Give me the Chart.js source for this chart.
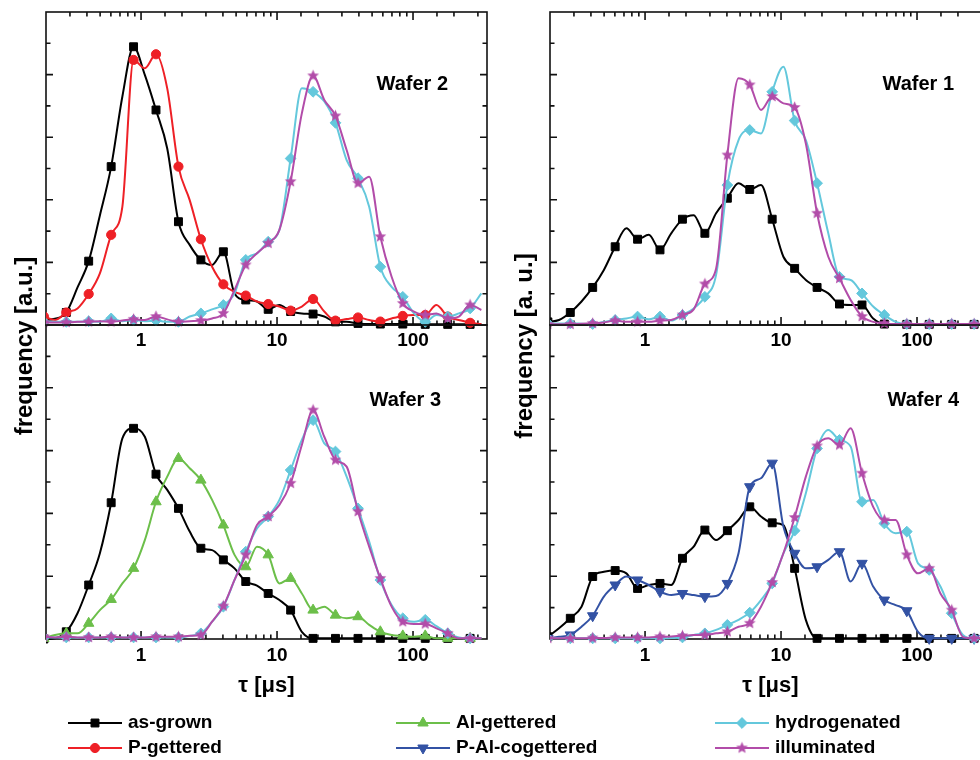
<!DOCTYPE html>
<html>
<head>
<meta charset="utf-8">
<script src="https://cdn.jsdelivr.net/npm/chart.js@4.4.1/dist/chart.umd.min.js"></script>
<style>
  html, body { margin: 0; padding: 0; background: #fff; overflow: hidden; width: 980px; height: 760px; }
  canvas { position: absolute; left: 0; top: 0; }
</style>
</head>
<body>
<canvas id="w2" width="1000" height="760"></canvas>
<canvas id="w1" width="1000" height="760"></canvas>
<canvas id="w3" width="1000" height="760"></canvas>
<canvas id="w4" width="1000" height="760"></canvas>
<script>
// lifetime grid (us), markers on every second point
const tau = [0.193, 0.233, 0.282, 0.341, 0.412, 0.498, 0.603, 0.729, 0.881, 1.066,
  1.288, 1.558, 1.884, 2.279, 2.754, 3.33, 4.03, 4.87, 5.89, 7.12,
  8.61, 10.41, 12.59, 15.22, 18.41, 22.26, 26.9, 32.5, 39.4, 47.6,
  57.5, 69.6, 84.1, 101.7, 123, 148.7, 179.9, 217.5, 263, 318];

const seriesNames = ["as-grown", "P-gettered", "Al-gettered", "P-Al-cogettered", "hydrogenated", "illuminated"];
const xTickLabels = ["1", "10", "100"];

// Wafer 2
const w2Grown = [0.16, 0.2, 0.4, 1.2, 2.04, 3.5, 5.06, 7.3, 8.89, 7.99,
  6.87, 5.64, 3.3, 2.56, 2.08, 1.92, 2.34, 1.01, 0.8, 0.75,
  0.5, 0.64, 0.43, 0.37, 0.35, 0.27, 0.1, 0.1, 0.05, 0.03,
  0.03, 0.03, 0.03, 0.02, 0.02, 0.02, 0.02, 0.02, 0.02, 0.02];
const w2PGett = [0.27, 0.16, 0.4, 0.53, 0.99, 1.65, 2.88, 3.78, 8.47, 8.2,
  8.65, 7.56, 5.06, 3.99, 2.74, 1.86, 1.3, 1.06, 0.94, 0.75,
  0.67, 0.59, 0.46, 0.59, 0.83, 0.43, 0.14, 0.19, 0.24, 0.16,
  0.11, 0.21, 0.29, 0.32, 0.32, 0.64, 0.27, 0.16, 0.07, 0.03];
const w2Hydro = [0.1, 0.1, 0.1, 0.1, 0.12, 0.1, 0.21, 0.12, 0.16, 0.12,
  0.14, 0.1, 0.1, 0.27, 0.37, 0.5, 0.64, 1.01, 2.08, 2.29,
  2.66, 3.04, 5.32, 7.56, 7.45, 7.14, 6.46, 5.27, 4.69, 3.78,
  1.86, 1.22, 0.9, 0.37, 0.1, 0.32, 0.27, 0.37, 0.53, 1.01];
const w2Illum = [0.08, 0.08, 0.08, 0.1, 0.1, 0.12, 0.1, 0.14, 0.18, 0.16,
  0.27, 0.18, 0.1, 0.12, 0.14, 0.21, 0.37, 1.12, 1.92, 2.29,
  2.61, 3.04, 4.58, 6.76, 7.96, 7.19, 6.68, 5.59, 4.53, 4.74,
  2.82, 1.54, 0.69, 0.43, 0.32, 0.37, 0.21, 0.27, 0.64, 0.48];

// Wafer 1
const w1Grown = [0.1, 0.16, 0.4, 0.75, 1.2, 1.76, 2.5, 3.09, 2.74, 2.88,
  2.4, 2.93, 3.38, 3.51, 2.93, 3.57, 4.05, 4.53, 4.33, 4.47,
  3.38, 2.18, 1.81, 1.44, 1.2, 1.01, 0.67, 0.64, 0.64, 0.21,
  0.03, 0.02, 0.02, 0.02, 0.02, 0.02, 0.02, 0.02, 0.02, 0.02];
const w1Hydro = [0.05, 0.05, 0.05, 0.04, 0.03, 0.1, 0.16, 0.21, 0.27, 0.18,
  0.27, 0.14, 0.32, 0.53, 0.9, 1.6, 4.47, 5.91, 6.23, 6.12,
  7.45, 8.25, 6.53, 5.91, 4.53, 2.93, 1.54, 1.44, 1.01, 0.59,
  0.32, 0.1, 0.03, 0.03, 0.03, 0.03, 0.03, 0.03, 0.03, 0.03];
const w1Illum = [0.02, 0.02, 0.02, 0.04, 0.05, 0.08, 0.14, 0.1, 0.1, 0.1,
  0.14, 0.16, 0.32, 0.5, 1.31, 1.8, 5.43, 7.88, 7.67, 6.87,
  7.3, 7.08, 6.95, 5.8, 3.57, 2.18, 1.49, 0.8, 0.27, 0.1,
  0.05, 0.03, 0.03, 0.03, 0.03, 0.03, 0.03, 0.03, 0.03, 0.03];

// Wafer 3
const w3Grown = [0, 0.02, 0.23, 0.82, 1.72, 2.73, 4.34, 6.39, 6.71, 6.44,
  5.25, 4.75, 4.16, 3.42, 2.89, 2.83, 2.52, 2.25, 1.83, 1.7,
  1.45, 1.24, 0.92, 0.23, 0.02, 0.02, 0.02, 0.02, 0.02, 0.02,
  0.02, 0.02, 0.02, 0.02, 0.02, 0.02, 0.02, 0.02, 0.02, 0.02];
const w3AlGett = [0.02, 0.13, 0.18, 0.18, 0.5, 0.92, 1.26, 1.77, 2.25, 3.15,
  4.37, 5.17, 5.75, 5.44, 5.06, 4.43, 3.63, 2.68, 2.3, 2.94,
  2.68, 1.77, 1.93, 1.45, 0.92, 1.03, 0.76, 0.66, 0.71, 0.45,
  0.23, 0.13, 0.1, 0.07, 0.1, 0.02, 0.02, 0.02, 0.02, 0.02];
const w3Hydro = [0.05, 0.05, 0.05, 0.04, 0.05, 0.05, 0.05, 0.05, 0.05, 0.05,
  0.05, 0.05, 0.05, 0.1, 0.18, 0.55, 1.03, 1.88, 2.78, 3.52,
  3.9, 4.43, 5.38, 6.34, 6.97, 6.23, 5.97, 5.17, 4.16, 3.1,
  1.88, 1.08, 0.66, 0.55, 0.61, 0.41, 0.18, 0.05, 0.02, 0.02];
const w3Illum = [0.07, 0.05, 0.07, 0.05, 0.05, 0.05, 0.07, 0.05, 0.05, 0.05,
  0.07, 0.07, 0.07, 0.1, 0.13, 0.55, 1.05, 1.88, 2.68, 3.63,
  3.9, 4.27, 4.96, 6.18, 7.29, 6.44, 5.7, 5.49, 4.06, 2.94,
  1.93, 1.03, 0.55, 0.48, 0.48, 0.34, 0.18, 0.02, 0.02, 0.02];

// Wafer 4
const w4Grown = [0.07, 0.34, 0.66, 1.03, 1.99, 2.14, 2.18, 2.09, 1.61, 1.72,
  1.77, 1.72, 2.57, 2.94, 3.47, 3.15, 3.45, 3.79, 4.21, 3.9,
  3.7, 3.63, 2.25, 0.61, 0.02, 0.02, 0.02, 0.02, 0.02, 0.02,
  0.02, 0.02, 0.02, 0.02, 0.02, 0.02, 0.02, 0.02, 0.02, 0.02];
const w4PAlCo = [0.02, 0.07, 0.13, 0.39, 0.74, 1.35, 1.72, 1.99, 1.88, 1.72,
  1.51, 1.4, 1.45, 1.4, 1.35, 1.37, 1.77, 2.73, 4.85, 5.12,
  5.6, 3.58, 2.73, 2.25, 2.3, 2.52, 2.78, 1.83, 2.41, 1.67,
  1.24, 1.08, 0.9, 0.23, 0.02, 0.02, 0.02, 0.02, 0.02, 0.02];
const w4Hydro = [0.02, 0.02, 0.02, 0.02, 0.02, 0.02, 0.02, 0.02, 0.02, 0.02,
  0.02, 0.03, 0.05, 0.13, 0.18, 0.29, 0.45, 0.61, 0.84, 1.24,
  1.77, 2.73, 3.45, 4.64, 6.07, 6.66, 6.34, 6.13, 4.37, 4.43,
  3.68, 3.37, 3.42, 2.41, 2.2, 1.67, 0.82, 0.13, 0.02, 0.02];
const w4Illum = [0.02, 0.02, 0.02, 0.02, 0.03, 0.03, 0.05, 0.05, 0.05, 0.05,
  0.07, 0.08, 0.1, 0.13, 0.13, 0.18, 0.23, 0.39, 0.5, 1.03,
  1.8, 2.73, 3.87, 5.17, 6.15, 6.39, 6.18, 6.71, 5.28, 4.21,
  3.79, 3.79, 2.68, 2.09, 2.25, 1.45, 0.92, 0.07, 0.02, 0.02];

const FONT = '"Liberation Sans", Arial, Helvetica, sans-serif';

function makeStar(color, R) {
  const c = document.createElement("canvas");
  const s = Math.ceil(R * 2) + 2;
  c.width = s; c.height = s;
  const g = c.getContext("2d");
  g.fillStyle = color;
  g.beginPath();
  for (let i = 0; i < 10; i++) {
    const r = i % 2 ? R * 0.45 : R;
    const a = -Math.PI / 2 + i * Math.PI / 5;
    g.lineTo(s / 2 + r * Math.cos(a), s / 2 + r * Math.sin(a));
  }
  g.closePath();
  g.fill();
  return c;
}

const styles = {
  "as-grown": { color: "#000000", pointStyle: "rect", radius: 5.6, rotation: 0 },
  "P-gettered": { color: "#ee2026", pointStyle: "circle", radius: 4.6, rotation: 0 },
  "Al-gettered": { color: "#6cbf4a", pointStyle: "triangle", radius: 6, rotation: 0 },
  "P-Al-cogettered": { color: "#3352a4", pointStyle: "triangle", radius: 6, rotation: 180 },
  "hydrogenated": { color: "#64c8dc", pointStyle: "rectRot", radius: 5.4, rotation: 0 },
  "illuminated": { color: "#b24ca9", pointStyle: makeStar("#b24ca9", 6.2), radius: 6, rotation: 0 },
};

function series(name, values, order) {
  const st = styles[name];
  return {
    label: name,
    data: tau.map((t, i) => ({ x: t, y: values[i] })),
    borderColor: st.color,
    backgroundColor: st.color,
    borderWidth: 2,
    pointStyle: st.pointStyle,
    pointRotation: st.rotation,
    pointRadius: (c) => (c.dataIndex % 2 === 0 ? st.radius : 0),
    pointHoverRadius: 0,
    pointBackgroundColor: st.color,
    pointBorderColor: st.color,
    pointBorderWidth: 1,
    cubicInterpolationMode: "monotone",
    clip: { left: 0, top: 0, right: 0, bottom: 8 },
    order: order,
  };
}

function isDecade(v) {
  const l = Math.log10(v);
  return Math.abs(l - Math.round(l)) < 1e-6;
}

// box, inward ticks and the wafer label
const framePlugin = {
  id: "frame",
  beforeDatasetsDraw(chart, args, opts) {
    const { ctx, chartArea: a, scales } = chart;
    const x = scales.x, y = scales.y;
    ctx.save();
    ctx.strokeStyle = "#111";
    ctx.lineWidth = 1.6;
    ctx.strokeRect(a.left, a.top, a.right - a.left, a.bottom - a.top);
    ctx.beginPath();
    x.ticks.forEach((t) => {
      const px = x.getPixelForValue(t.value);
      if (px < a.left + 1 || px > a.right - 1) return;
      const len = isDecade(t.value) ? 8 : 4.5;
      ctx.moveTo(px, a.bottom); ctx.lineTo(px, a.bottom - len);
      if (opts.topTicks) { ctx.moveTo(px, a.top); ctx.lineTo(px, a.top + len); }
    });
    y.ticks.forEach((t) => {
      if (t.value <= 0 || t.value >= 10) return;
      const py = y.getPixelForValue(t.value);
      const len = t.value % 2 === 0 ? 7 : 4.5;
      ctx.moveTo(a.left, py); ctx.lineTo(a.left + len, py);
      ctx.moveTo(a.right, py); ctx.lineTo(a.right - len, py);
    });
    ctx.stroke();
    ctx.font = "bold 20px " + FONT;
    ctx.fillStyle = "#000";
    ctx.textAlign = "right";
    ctx.textBaseline = "middle";
    ctx.fillText(opts.label, a.right - opts.labelRight, a.top + opts.labelTop);
    ctx.restore();
  },
};

// y titles and the shared legend
const figurePlugin = {
  id: "figure",
  afterDraw(chart, args, opts) {
    const ctx = chart.ctx;
    ctx.save();
    ctx.fillStyle = "#000";
    ctx.font = "bold 24px " + FONT;
    ctx.textAlign = "center";
    ctx.textBaseline = "middle";
    opts.yTitles.forEach((t) => {
      ctx.save();
      ctx.translate(t.x, t.y);
      ctx.rotate(-Math.PI / 2);
      ctx.fillText(t.text, 0, 0);
      ctx.restore();
    });
    const drawPoint = Chart.helpers && Chart.helpers.drawPoint;
    ctx.font = "bold 19px " + FONT;
    ctx.textAlign = "left";
    seriesNames.forEach((name, i) => {
      const st = styles[name];
      const col = Math.floor(i / 2), row = i % 2;
      const x0 = opts.colX[col], x1 = x0 + opts.lineLen, yy = opts.rowY[row];
      ctx.strokeStyle = st.color;
      ctx.fillStyle = st.color;
      ctx.lineWidth = 2;
      ctx.beginPath(); ctx.moveTo(x0, yy); ctx.lineTo(x1, yy); ctx.stroke();
      ctx.lineWidth = 1;
      if (drawPoint) {
        drawPoint(ctx, { pointStyle: st.pointStyle, radius: st.radius, rotation: st.rotation, borderWidth: 1 }, (x0 + x1) / 2, yy);
      } else {
        ctx.beginPath(); ctx.arc((x0 + x1) / 2, yy, 4.5, 0, Math.PI * 2); ctx.fill();
      }
      ctx.fillStyle = "#000";
      ctx.fillText(name, x1 + 6, yy);
    });
    ctx.restore();
  },
};

function makeChart(id, datasets, o) {
  const xTitle = o.xTitle;
  return new Chart(document.getElementById(id), {
    type: "line",
    data: { datasets: datasets },
    plugins: [framePlugin].concat(o.extra || []),
    options: {
      responsive: false,
      animation: false,
      devicePixelRatio: 1,
      events: [],
      layout: { padding: o.padding },
      scales: {
        x: {
          type: "logarithmic",
          min: 0.2,
          max: 350,
          grid: { display: false, drawTicks: false },
          border: { display: false },
          afterFit: (s) => { s.height = o.axisHeight; },
          ticks: {
            autoSkip: false,
            maxRotation: 0,
            padding: o.tickPad,
            color: "#000",
            font: { family: FONT, size: 19, weight: "bold" },
            callback: (v) => (v >= 1 && isDecade(v) && xTickLabels.includes(String(Math.round(v))) ? String(Math.round(v)) : ""),
          },
          title: {
            display: !!xTitle,
            text: xTitle || "",
            color: "#000",
            padding: { top: 4, bottom: 4 },
            font: { family: FONT, size: 22, weight: "bold" },
          },
        },
        y: { type: "linear", min: 0, max: 10, display: false, ticks: { stepSize: 1 } },
      },
      plugins: {
        legend: { display: false },
        tooltip: { enabled: false },
        frame: o.frame,
        figure: o.figure || {},
      },
    },
  });
}

makeChart("w2", [
  series("illuminated", w2Illum, 1),
  series("hydrogenated", w2Hydro, 2),
  series("P-gettered", w2PGett, 3),
  series("as-grown", w2Grown, 4),
], {
  padding: { left: 46, right: 513, top: 12, bottom: 395 },
  axisHeight: 40, tickPad: 4,
  frame: { label: "Wafer 2", labelRight: 39, labelTop: 72, topTicks: true },
});

makeChart("w1", [
  series("illuminated", w1Illum, 1),
  series("hydrogenated", w1Hydro, 2),
  series("as-grown", w1Grown, 4),
], {
  padding: { left: 550, right: 9, top: 12, bottom: 395 },
  axisHeight: 40, tickPad: 4,
  frame: { label: "Wafer 1", labelRight: 37, labelTop: 72, topTicks: true },
});

makeChart("w3", [
  series("illuminated", w3Illum, 1),
  series("hydrogenated", w3Hydro, 2),
  series("Al-gettered", w3AlGett, 3),
  series("as-grown", w3Grown, 4),
], {
  padding: { left: 46, right: 513, top: 325, bottom: 57 },
  axisHeight: 64, tickPad: 5.5, xTitle: "τ [μs]",
  frame: { label: "Wafer 3", labelRight: 46, labelTop: 75, topTicks: false },
  extra: [figurePlugin],
  figure: {
    yTitles: [
      { text: "frequency [a.u.]", x: 25, y: 346 },
      { text: "frequency [a. u.]", x: 525, y: 346 },
    ],
    colX: [68, 396, 715],
    rowY: [723, 748],
    lineLen: 54,
  },
});

makeChart("w4", [
  series("illuminated", w4Illum, 1),
  series("hydrogenated", w4Hydro, 2),
  series("P-Al-cogettered", w4PAlCo, 3),
  series("as-grown", w4Grown, 4),
], {
  padding: { left: 550, right: 9, top: 325, bottom: 57 },
  axisHeight: 64, tickPad: 5.5, xTitle: "τ [μs]",
  frame: { label: "Wafer 4", labelRight: 32, labelTop: 75, topTicks: false },
});
</script>
</body>
</html>
